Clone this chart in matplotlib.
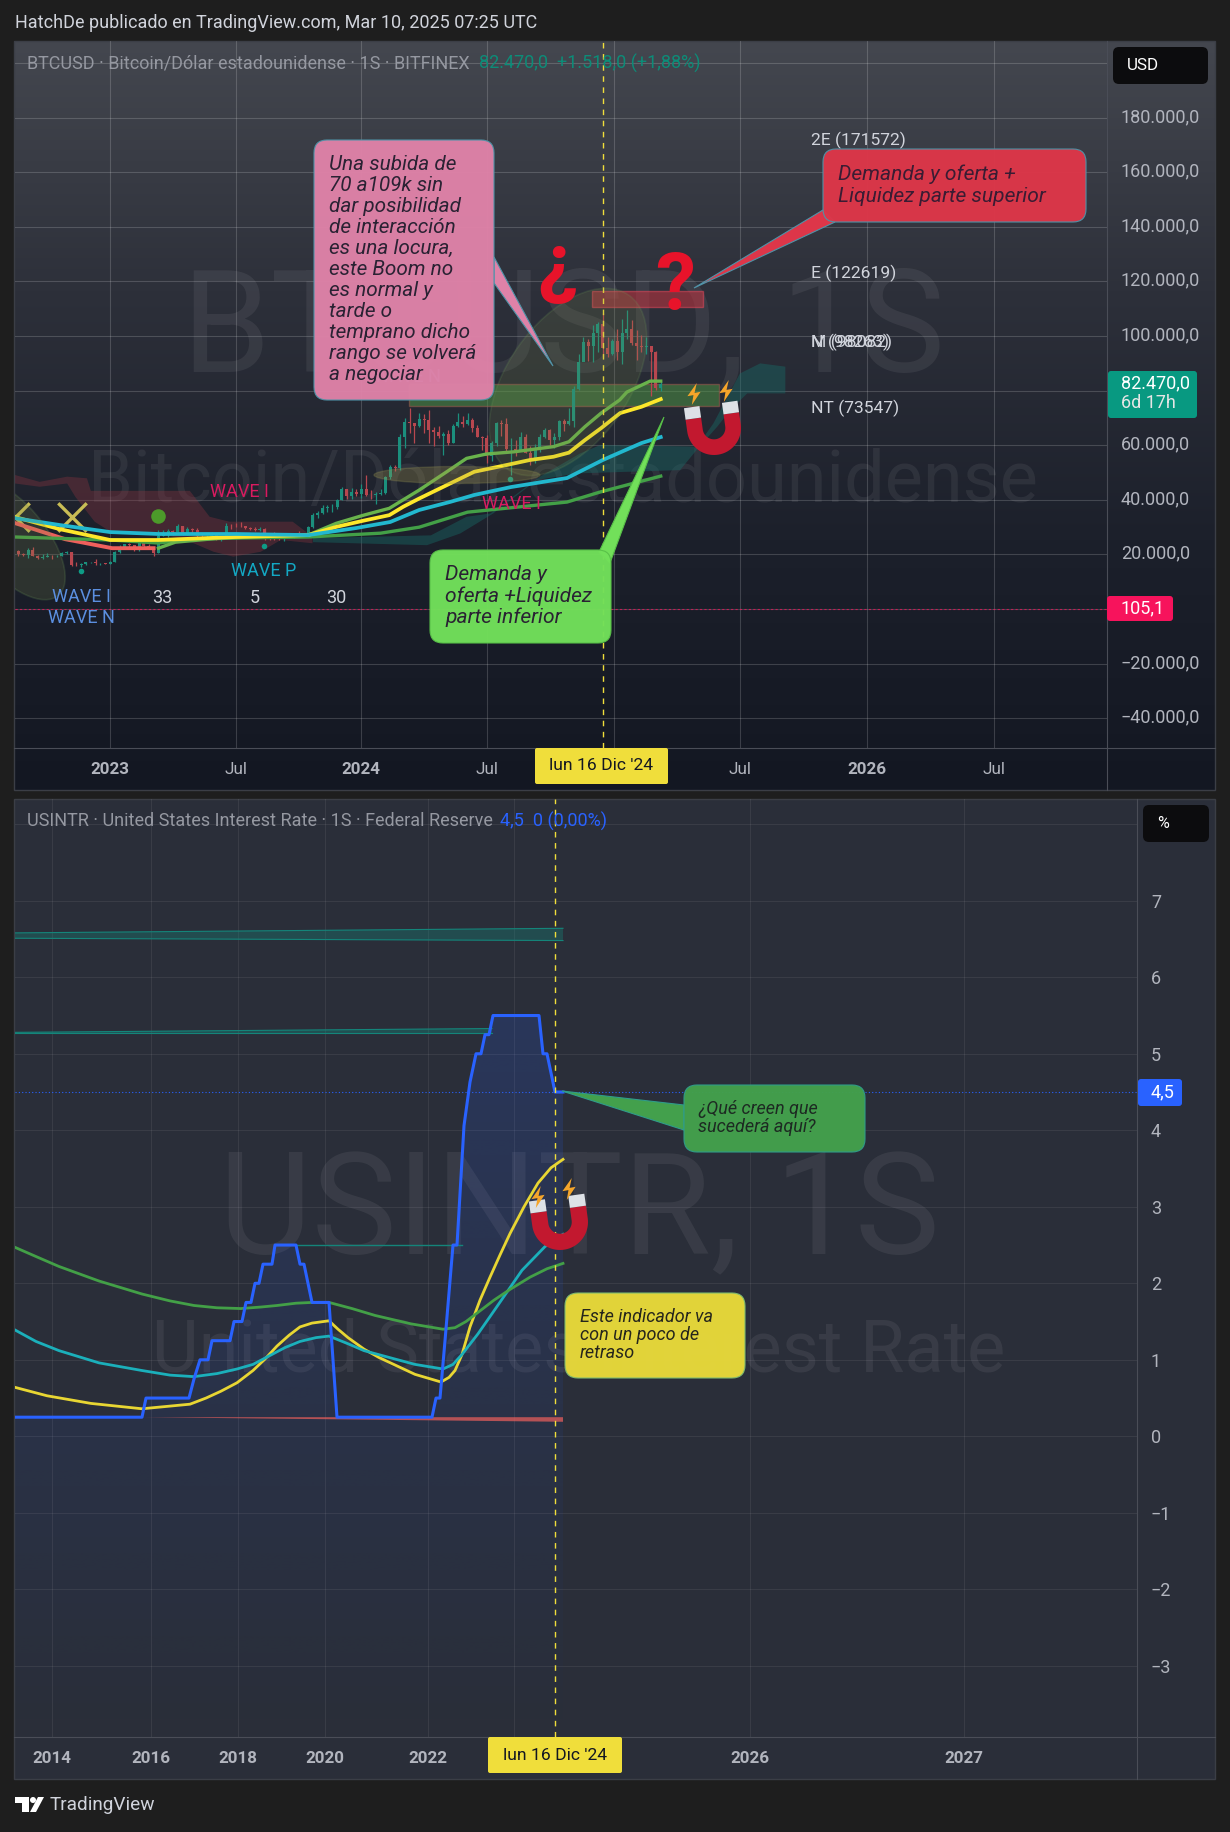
import numpy as np
import matplotlib
matplotlib.use("Agg")
import matplotlib.pyplot as plt
from matplotlib.colors import LinearSegmentedColormap
from matplotlib.patches import Circle, Ellipse, FancyBboxPatch, Polygon, Rectangle
from matplotlib.transforms import ScaledTranslation

plt.rcParams["font.family"] = ["Roboto", "DejaVu Sans"]

W, H = 1230, 1832

# BTCUSD weekly candles, week 0 = first week of 2023
btc_close = [20050, 19950, 21800, 19400, 18800, 19050, 19430, 19260, 19570, 20620,
             20920, 16300, 16280, 16420, 17100, 17100, 16750, 16840, 16610, 17130,
             20880, 22700, 23750, 23300, 21800, 24630, 23170, 22430, 20600, 26900,
             27500, 28470, 28330, 30300, 27800, 29240, 28850, 26780, 26750, 26850,
             27120, 25830, 26340, 30530, 30470, 30340, 30290, 29870, 29300, 29040,
             29300, 26050, 26010, 25870, 25830, 26530, 26560, 27990, 27920, 27100,
             29990, 34500, 35050, 37060, 37380, 37450, 39970, 44000, 41360, 43000,
             42260, 43950, 41760, 41630, 42030, 42600, 48300, 52140, 51730, 63100,
             68400, 68300, 67200, 69650, 69350, 65650, 64950, 63400, 64000, 60800,
             66900, 68500, 67750, 69300, 66200, 63200, 62700, 55900, 60800, 68150,
             67900, 58700, 58700, 58450, 62900, 57300, 54100, 59100, 63200, 65600,
             62100, 62900, 69000, 67900, 68800, 80500, 90400, 97900, 96400, 101200,
             104500, 95500, 93300, 98100, 94300, 101000, 102600, 97500, 96400, 96000,
             96300, 94100, 80950, 82470]
btc_high = [21800, 20600, 22300, 22800, 19700, 20300, 20400, 19900, 19700, 21000,
            21400, 21000, 17100, 16800, 17400, 17400, 18300, 17000, 16950, 17500,
            21300, 23300, 23950, 24200, 23450, 25250, 25100, 23900, 22600, 28900,
            29000, 29400, 28800, 31000, 30500, 30000, 29800, 29800, 27700, 26950,
            28400, 27400, 26800, 31400, 31200, 31500, 31800, 30400, 29900, 30000,
            30200, 29700, 26800, 28100, 26450, 26900, 27500, 28000, 28600, 28000,
            30300, 35100, 35900, 38000, 37950, 38400, 40200, 44700, 44000, 44300,
            43800, 45900, 49000, 43500, 42800, 43900, 48600, 52800, 52900, 64000,
            70000, 73800, 68200, 71700, 71300, 72800, 66800, 67200, 64800, 65500,
            67700, 71900, 70600, 71900, 70000, 67300, 63400, 63800, 61400, 68400,
            69400, 70000, 62700, 61800, 65000, 64000, 59800, 60600, 64100, 66500,
            66000, 64400, 69400, 69500, 73600, 81800, 93500, 99800, 98800, 104000,
            105000, 108300, 99600, 99000, 102700, 106200, 109500, 105900, 102200, 100400,
            99500, 96500, 94400, 83500]
btc_low = [19600, 19500, 18600, 19300, 18200, 18500, 19100, 18200, 18900, 19300,
           20100, 15600, 15800, 15500, 16000, 16750, 16300, 16300, 16350, 16550,
           17100, 20400, 22300, 22800, 21400, 21350, 22800, 21970, 19500, 20500,
           26600, 26500, 27200, 28100, 27150, 27200, 27700, 25800, 26300, 25850,
           26550, 25400, 24800, 26300, 29500, 29900, 29900, 29500, 28900, 28600,
           28700, 25200, 25350, 25350, 25400, 24900, 26000, 26000, 27200, 26550,
           26800, 29800, 33400, 34700, 35500, 35700, 36800, 39900, 40200, 40500,
           41500, 40800, 41400, 40300, 38500, 41900, 42300, 47700, 50500, 50900,
           59000, 64600, 60800, 66600, 64500, 60700, 59700, 62800, 56500, 60200,
           60800, 66600, 66700, 67600, 65000, 63000, 58400, 53500, 54300, 59800,
           63500, 57000, 49000, 56100, 57800, 57100, 52600, 53600, 57500, 62700,
           59900, 58900, 62000, 65200, 67500, 66800, 80200, 90800, 90800, 90500,
           94200, 92200, 92200, 93000, 91300, 89800, 99000, 96800, 91300, 94100,
           93400, 78200, 80200, 80000]
btc_open = [21400] + btc_close[:-1]
btc_week = list(range(-19, 115))

# moving averages on the BTC pane
ma_cyan_w = [-19.7, -10.5, 0, 10, 26, 41, 51, 58, 64, 70.5, 75.4, 83, 94.6, 102, 110, 114]
ma_cyan = [33300, 30800, 28200, 27500, 27500, 27100, 29700, 31900, 36300, 39300, 41800, 44700, 48000, 54600, 60800, 63000]
ma_yellow_w = [-19.7, -10.5, 0, 10, 26, 41, 46.8, 52.5, 57.8, 60.7, 64, 69.7, 75.4, 81.1, 86.9, 91.8, 95, 98.3, 101.6, 105.6, 110, 114]
ma_yellow = [33700, 29300, 25300, 25300, 26400, 27100, 30100, 32400, 34400, 37500, 40500, 45400, 50300, 52400, 54600, 55800, 57300, 61900, 66200, 71800, 74100, 76900]
ma_lime_w = [10, 13.5, 23, 41, 46.8, 52.5, 57.8, 64, 69.7, 73.8, 77.9, 83.6, 91.8, 95, 98.3, 101.6, 105.5, 107, 111.8, 114]
ma_lime = [22300, 24500, 26000, 27100, 31400, 34400, 36900, 43600, 50300, 55200, 56800, 57600, 59500, 61300, 66800, 71700, 76600, 79500, 83500, 83500]
ma_green_w = [-19.7, 0, 10, 17, 26, 41, 56, 64, 74, 94.6, 101.5, 114]
ma_green = [26400, 25300, 24200, 25600, 26000, 26400, 27800, 30000, 35500, 39200, 42900, 48700]
ma_red_w = [-19.7, -9.3, 0.4, 9]
ma_red = [31500, 25600, 22300, 22300]

# clouds on the BTC pane
red_top_w = [-19.7, -14.6, -8.9, -4.8, -4, 16.5, 20.6, 24.7, 37.8, 41.9]
red_top = [49100, 46600, 48500, 47900, 43300, 43300, 33800, 32000, 32000, 26500]
red_bot_w = [-19.7, -14.6, -8.9, -7.2, -3.2, 0.1, 9.9, 15.7, 21.4, 25.5, 31.2, 35.3, 41.9]
red_bot = [46000, 44800, 46000, 41100, 32000, 28300, 27700, 25300, 21000, 19200, 21000, 25300, 24100]
teal_top_w = [42, 66.4, 73.8, 78.7, 89, 97.3, 101.5, 121.5, 124.9, 130.4, 134.6, 139.8]
teal_top = [26000, 27000, 33800, 35000, 48500, 57000, 60100, 59500, 68000, 86300, 90000, 88800]
teal_bot_w = [42, 65.6, 72.5, 79.3, 88.4, 96.7, 118, 122, 125.7, 128.4, 131.9, 139.8]
teal_bot = [24500, 23400, 27700, 35000, 47300, 49700, 50900, 59500, 66800, 72900, 79000, 79000]

btc_ticks = [200000, 180000, 160000, 140000, 120000, 100000, 80000, 60000, 40000, 20000, 0, -20000, -40000]
btc_tick_labels = ["200.000,0", "180.000,0", "160.000,0", "140.000,0", "120.000,0", "100.000,0", "80.000,0",
                   "60.000,0", "40.000,0", "20.000,0", "", "\u221220.000,0", "\u221240.000,0"]
btc_time_ticks = [0, 26, 52, 78, 104.3, 130.4, 156.7, 183]
btc_time_labels = ["2023", "Jul", "2024", "Jul", "2025", "Jul", "2026", "Jul"]

# USINTR pane, x is the bar number on the compressed time scale
rate_bar = [0, 127, 131, 174, 179, 185, 193, 197, 215, 219, 227, 231, 236, 240, 244, 248, 257, 260, 281, 285,
            289, 297, 314, 322, 417, 421, 425, 430, 438, 442, 449, 455, 461, 466, 470, 474, 478, 524, 528, 532, 540, 548]
rate_val = [0.25, 0.25, 0.5, 0.5, 0.75, 1.0, 1.0, 1.25, 1.25, 1.5, 1.5, 1.75, 1.75, 2.0, 2.0, 2.25, 2.25, 2.5, 2.5, 2.25,
            2.25, 1.75, 1.75, 0.25, 0.25, 0.5, 0.5, 1.25, 2.5, 2.5, 4.06, 4.63, 5.0, 5.0, 5.25, 5.25, 5.5, 5.5, 5.0, 5.0, 4.5, 4.5]
rate_yellow_b = [0, 32, 76, 127, 175, 191, 206, 222, 238, 250, 262, 274, 285, 297, 314, 323, 333, 349, 364, 400, 426, 434, 440, 447,
                 455, 465, 475, 485, 495, 509, 523, 536, 548]
rate_yellow = [0.64, 0.53, 0.43, 0.36, 0.42, 0.50, 0.59, 0.70, 0.86, 1.01, 1.18, 1.32, 1.43, 1.48, 1.51, 1.40, 1.29, 1.14, 1.03, 0.81, 0.71, 0.77, 0.86, 1.07,
               1.43, 1.78, 2.08, 2.37, 2.65, 3.0, 3.31, 3.51, 3.62]
rate_cyan_b = [0, 21, 44, 84, 127, 155, 179, 202, 222, 238, 254, 270, 285, 301, 314, 333, 349, 380, 400, 428, 438, 447, 463, 479, 507, 530, 548]
rate_cyan = [1.39, 1.24, 1.12, 0.96, 0.86, 0.80, 0.78, 0.82, 0.88, 0.94, 1.05, 1.16, 1.24, 1.29, 1.31, 1.21, 1.12, 1.01, 0.94, 0.88, 0.94, 1.07, 1.34, 1.64, 2.17, 2.48, 2.64]
rate_green_b = [0, 21, 44, 84, 127, 155, 179, 202, 226, 246, 262, 281, 297, 314, 337, 360, 396, 428, 440, 451, 479, 495, 515, 532, 548]
rate_green = [2.47, 2.35, 2.22, 2.03, 1.86, 1.77, 1.71, 1.68, 1.67, 1.69, 1.71, 1.74, 1.75, 1.75, 1.67, 1.58, 1.47, 1.40, 1.42, 1.50, 1.78, 1.92, 2.08, 2.19, 2.26]
rate_ticks = [8, 7, 6, 5, 4, 3, 2, 1, 0, -1, -2, -3]
rate_tick_labels = ["8", "7", "6", "5", "4", "3", "2", "1", "0", "\u22121", "\u22122", "\u22123"]
rate_time_ticks = [37, 136, 223, 310, 413, 499, 735, 949]
rate_time_labels = ["2014", "2016", "2018", "2020", "2022", "", "2026", "2027"]

GREEN, RED = "#1b8f7d", "#b8474f"
GRID_TXT = "#b2b5be"
LIGHT = "#d1d4dc"


def px(size):
    return size * 0.72


def axes_from_px(x0, y0, x1, y1, z):
    return fig.add_axes([x0 / W, 1 - y1 / H, (x1 - x0) / W, (y1 - y0) / H], zorder=z)


def style_pane(ax, grid_alpha):
    ax.set_facecolor("none")
    for s in ax.spines.values():
        s.set_visible(False)
    ax.yaxis.tick_right()
    ax.tick_params(axis="both", length=0, colors=GRID_TXT, labelsize=px(18))
    ax.tick_params(axis="y", pad=10)
    ax.tick_params(axis="x", pad=10)
    ax.grid(True, color="white", alpha=grid_alpha, lw=0.8)
    ax.set_axisbelow(True)


def callout(ax, x0, y0, x1, y1, tail, color, edge="#4f93a8"):
    if tail:
        ax.add_patch(Polygon(tail, closed=True, fc=color, ec=edge, lw=0.8, zorder=6))
    ax.add_patch(FancyBboxPatch((x0, y0), x1 - x0, y1 - y0, boxstyle="round,pad=0,rounding_size=13",
                                fc=color, ec=edge, lw=0.8, zorder=7, alpha=0.97))


def note(ax, x, ys, lines, size, color="#2a2233"):
    for y, s in zip(ys, lines):
        ax.text(x, y, s, fontsize=px(size), style="italic", color=color, va="center", ha="left", zorder=8)


def magnet(ax, cx, cy, r, deg):
    t = np.linspace(0, np.pi, 40)
    xs = np.r_[np.cos(t), -1, -0.42, 0.42 * np.cos(t[::-1]), 0.42, 1]
    ys = np.r_[np.sin(t), -0.45, -0.45, 0.42 * np.sin(t[::-1]), -0.45, -0.45]
    a = np.radians(deg)

    def place(x, y):
        x, y = np.asarray(x), np.asarray(y)
        return np.c_[cx + r * (x * np.cos(a) - y * np.sin(a)), cy + r * (x * np.sin(a) + y * np.cos(a))]

    ax.add_patch(Polygon(place(xs, ys), fc="#c2182f", ec="none", zorder=7))
    for left in (-1.0, 0.42):
        ax.add_patch(Polygon(place([left, left + 0.58, left + 0.58, left], [-0.45, -0.45, -0.88, -0.88]),
                             fc="#dde1e6", ec="none", zorder=7))


def bolt(ax, cx, cy, s):
    shape = np.array([[0.25, -1], [-0.6, 0.2], [-0.05, 0.1], [-0.2, 1], [0.6, -0.2], [0.05, -0.1]])
    ax.add_patch(Polygon(shape * s + [cx, cy], fc="#f5a52a", ec="none", zorder=7))


fig = plt.figure(figsize=(W / 100, H / 100), dpi=100, facecolor="#1e1e1e")

# page background, panes, watermarks
bg = axes_from_px(0, 0, W, H, 0)
grad = LinearSegmentedColormap.from_list("pane", ["#44474f", "#2d303a", "#1c202b", "#131722"])
bg.imshow(np.linspace(0, 1, 256)[:, None], cmap=grad, extent=(14, 1215, 790, 41), aspect="auto")
bg.add_patch(Rectangle((14, 799), 1201, 980, fc="#2a2e39", ec="none"))
bg.set_xlim(0, W)
bg.set_ylim(H, 0)
bg.axis("off")
for xs, ys in [((1107, 1107), (41, 790)), ((14, 1215), (748, 748)), ((1137, 1137), (799, 1779)), ((14, 1215), (1737, 1737))]:
    bg.plot(xs, ys, color="#4a4d57", lw=0.8)
bg.add_patch(Rectangle((14, 41), 1201, 749, fc="none", ec="#3b3e46", lw=1))
bg.add_patch(Rectangle((14, 799), 1201, 980, fc="none", ec="#3b3e46", lw=1))

wm = dict(color="white", alpha=0.065, ha="center", va="center")
bg.text(563, 332, "BTCUSD, 1S", fontsize=px(142), **wm)
bg.text(563, 483, "Bitcoin/D\u00f3lar estadounidense", fontsize=px(72), **wm)
bg.text(579, 1215, "USINTR, 1S", fontsize=px(143), **wm)
bg.text(579, 1352, "United States Interest Rate", fontsize=px(72), **wm)

# BTC pane
ax1 = axes_from_px(15, 41, 1107, 748, 2)
style_pane(ax1, 0.17)
ax1.set_xlim(-19.7, 206.4)
ax1.set_ylim(-50900, 208100)

ax1.fill(np.r_[red_top_w, red_bot_w[::-1]], np.r_[red_top, red_bot[::-1]], color="#8c3440", alpha=0.36, lw=0)
ax1.fill(np.r_[teal_top_w, teal_bot_w[::-1]], np.r_[teal_top, teal_bot[::-1]], color="#17706a", alpha=0.4, lw=0)

ax1.add_patch(Rectangle((61.9, 74400), 64.1, 8000, fc="#4f9a45", ec="#a85a50", alpha=0.5, lw=1))
ax1.add_patch(Rectangle((99.8, 110600), 23, 5900, fc="#c23440", ec="#e0485a", alpha=0.55, lw=1))

colors = [GREEN if c >= o else RED for o, c in zip(btc_open, btc_close)]
ax1.vlines(btc_week, btc_low, btc_high, colors=colors, lw=0.9)
ax1.bar(btc_week, np.array(btc_close) - np.array(btc_open), bottom=btc_open, width=0.62, color=colors, lw=0)

ax1.plot(ma_red_w, ma_red, color="#f0605c", lw=2.8)
ax1.plot(ma_green_w, ma_green, color="#43a047", lw=2.4)
ax1.plot(ma_lime_w, ma_lime, color="#69b34c", lw=2.4)
ax1.plot(ma_yellow_w, ma_yellow, color="#fde72b", lw=2.7)
ax1.plot(ma_cyan_w, ma_cyan, color="#22b8cf", lw=2.7)

ax1.axhline(105.1, color="#f7135c", lw=0.8, ls=(0, (2, 2)), alpha=0.7)
ax1.axvline(102, color="#f0de3b", lw=1, ls=(0, (4, 4)))

ax1.scatter([-19.7, -7.9], [33700, 33700], marker="x", s=420, color="#c9bd55", lw=2.4)
ax1.scatter([9.9], [34000], s=110, color="#4c9a2a", lw=0)
ax1.scatter([-6, 31.9, 82.8], [13900, 23100, 47600], s=16, color="#0e9c86", lw=0)

ax1.set_yticks(btc_ticks, btc_tick_labels)
lift = ScaledTranslation(0, 2 / 72, fig.dpi_scale_trans)
for lab in ax1.get_yticklabels():
    lab.set_verticalalignment("center_baseline")
    lab.set_transform(lab.get_transform() + lift)
ax1.set_xticks(btc_time_ticks, btc_time_labels)
for lab in ax1.get_xticklabels():
    lab.set_fontweight("bold" if lab.get_text().isdigit() else "normal")
    lab.set_fontsize(px(17))

# rate pane
ax2 = axes_from_px(15, 799, 1137, 1737, 3)
style_pane(ax2, 0.07)
ax2.set_xlim(0, 1122)
ax2.set_ylim(-3.93, 8.33)

# area under the rate fades out toward the bottom of the pane
shade = np.zeros((256, 1, 4))
shade[..., :3] = matplotlib.colors.to_rgb("#2962ff")
shade[:, 0, 3] = np.linspace(0.17, 0.0, 256)
im = ax2.imshow(shade, extent=(0, 548, -3.93, 5.5), aspect="auto", zorder=1)
im.set_clip_path(Polygon(np.c_[np.r_[rate_bar, 548, 0], np.r_[rate_val, -3.93, -3.93]], transform=ax2.transData))
ax2.set_xlim(0, 1122)
ax2.set_ylim(-3.93, 8.33)

ax2.fill_between([0, 548], [6.51, 6.48], [6.58, 6.64], fc="#14857a", alpha=0.35, lw=0)
ax2.plot([0, 548], [6.51, 6.48], color="#14857a", lw=0.8)
ax2.plot([0, 548], [6.58, 6.64], color="#14857a", lw=0.8)
ax2.fill_between([0, 477], [5.27, 5.27], [5.28, 5.33], fc="#14857a", alpha=0.4, lw=0)
ax2.plot([0, 477], [5.27, 5.27], color="#14857a", lw=0.8)
ax2.plot([0, 477], [5.28, 5.33], color="#14857a", lw=0.8)
ax2.plot([281, 447], [2.5, 2.5], color="#14857a", lw=1)
ax2.fill_between([127, 548], [0.25, 0.19], [0.25, 0.25], fc="#f0605c", alpha=0.7, lw=0)

ax2.plot(rate_yellow_b, rate_yellow, color="#e8d633", lw=2.0)
ax2.plot(rate_cyan_b, rate_cyan, color="#1bb0bb", lw=2.0)
ax2.plot(rate_green_b, rate_green, color="#43a047", lw=2.0)
ax2.plot(rate_bar, rate_val, color="#2962ff", lw=2.2)

ax2.axhline(4.5, color="#2962ff", lw=0.8, ls=(0, (1, 2)))
ax2.axvline(540, color="#f0de3b", lw=1, ls=(0, (4, 4)))

ax2.set_yticks(rate_ticks, rate_tick_labels)
ax2.set_xticks(rate_time_ticks, rate_time_labels)
for lab in ax2.get_xticklabels():
    lab.set_fontweight("bold")
    lab.set_fontsize(px(17))

# drawings and labels on top, in page pixels
ov = axes_from_px(0, 0, W, H, 5)
ov.set_xlim(0, W)
ov.set_ylim(H, 0)
ov.axis("off")
ov.patch.set_alpha(0)

pane_clip = Rectangle((15, 41), 1092, 707, transform=ov.transData)
e1 = Ellipse((568, 382), 212, 122, angle=-55, fc="#7c8a4a", ec="#6d9a5a", alpha=0.18, lw=1.2, zorder=3)
e2 = Ellipse((10, 538), 150, 70, angle=50, fc="#7c8a4a", ec="#6d9a5a", alpha=0.2, lw=1.2, zorder=3)
e3 = Ellipse((457, 475), 166, 17, fc="#a89a50", ec="#8a8a50", alpha=0.28, lw=1, zorder=3)
for e in (e1, e2, e3):
    ov.add_patch(e)
e2.set_clip_path(pane_clip)

ov.text(407, 377, "WAVE N", color="#5b8fe0", fontsize=px(18), ha="center", va="center", zorder=5)

wave = [(239, 492, "WAVE I", "#d81b60"), (511, 504, "WAVE I", "#d81b60"), (264, 571, "WAVE P", "#13a8c4"),
        (81, 597, "WAVE I", "#5b8fe0"), (81, 618, "WAVE N", "#5b8fe0"), (162, 598, "33", LIGHT),
        (255, 598, "5", LIGHT), (336, 598, "30", LIGHT)]
for x, y, s, c in wave:
    ov.text(x, y, s, color=c, fontsize=px(18), ha="center", va="center", zorder=5)

for y, s in [(140, "2E (171572)"), (273, "E (122619)"), (342, "M (98082)"), (342, "N (98263)"), (408, "NT (73547)")]:
    ov.text(811, y, s, color=LIGHT, fontsize=px(17.5), va="center", zorder=5)

callout(ov, 314, 140, 494, 400, [(494, 257), (553, 366), (494, 283)], "#df82a8")
note(ov, 329, np.arange(165, 376, 20.95),
     ["Una subida de", "70 a109k sin", "dar posibilidad", "de interacci\u00f3n", "es una locura,", "este Boom no",
      "es normal y", "tarde o", "temprano dicho", "rango se volver\u00e1", "a negociar"], 20.8)

callout(ov, 823, 149, 1086, 222, [(823, 210), (694, 288), (835, 222)], "#dd3649")
note(ov, 838, [174, 196], ["Demanda y oferta +", "Liquidez parte superior"], 21, "#3a1c33")

callout(ov, 430, 550, 611, 643, [(599, 552), (664, 417), (610, 563)], "#72e05a", edge="#58c048")
note(ov, 445, [575, 596, 617], ["Demanda y", "oferta +Liquidez", "parte inferior"], 21)

callout(ov, 684, 1085, 865, 1152, [(684, 1105), (562, 1091), (684, 1130)], "#43a04c", edge="#2f9c8a")
note(ov, 698, [1109, 1127], ["\u00bfQu\u00e9 creen que", "suceder\u00e1 aqu\u00ed?"], 18, "#1d2a22")

callout(ov, 565, 1293, 745, 1378, None, "#e8d93a", edge="#7dbb70")
note(ov, 580, [1317, 1335, 1353], ["Este indicador va", "con un poco de", "retraso"], 18, "#26261c")

ov.text(557, 268, "\u00bf", color="#e8132a", fontsize=px(80), fontweight="bold", ha="center", va="center", zorder=7)
ov.text(675, 289, "?", color="#e8132a", fontsize=px(80), fontweight="bold", ha="center", va="center", zorder=7)

magnet(ov, 714, 428, 27, -8)
bolt(ov, 694, 394, 11)
bolt(ov, 726, 391, 11)
magnet(ov, 560, 1222, 28, -8)
bolt(ov, 538, 1197, 11)
bolt(ov, 569, 1189, 11)

# header, legends
ov.text(15, 23, "HatchDe publicado en TradingView.com, Mar 10, 2025 07:25 UTC", color=LIGHT, fontsize=px(18), va="center")
ov.text(27, 63, "BTCUSD \u00b7 Bitcoin/D\u00f3lar estadounidense \u00b7 1S \u00b7 BITFINEX", color="#9598a1", fontsize=px(18), va="center")
ov.text(479, 63, "82.470,0  +1.518,0 (+1,88%)", color="#0d8c78", fontsize=px(18), va="center")
ov.text(27, 821, "USINTR \u00b7 United States Interest Rate \u00b7 1S \u00b7 Federal Reserve", color="#9598a1", fontsize=px(18), va="center")
ov.text(500, 821, "4,5  0 (0,00%)", color="#2962ff", fontsize=px(18), va="center")


# axis tags
def tag(x0, y0, x1, y1, color, size=4):
    ov.add_patch(FancyBboxPatch((x0, y0), x1 - x0, y1 - y0, boxstyle="round,pad=0,rounding_size=%d" % size,
                                fc=color, ec="none", zorder=7))


tag(1113, 47, 1208, 84, "#0c0c0e", 6)
ov.text(1127, 65, "USD", color="white", fontsize=px(17), va="center", zorder=8)
tag(1143, 805, 1209, 842, "#0c0c0e", 6)
ov.text(1157, 823, "%", color="white", fontsize=px(16), va="center", zorder=8)

tag(1108, 371, 1197, 418, "#089981", 3)
ov.text(1121, 383, "82.470,0", color="white", fontsize=px(18), va="center", zorder=8)
ov.text(1121, 403, "6d 17h", color="#e6e6e6", fontsize=px(18), va="center", zorder=8)
tag(1107, 596, 1173, 621, "#f7135c", 3)
ov.text(1121, 608, "105,1", color="white", fontsize=px(18), va="center", zorder=8)
tag(1138, 1079, 1182, 1106, "#2962ff", 3)
ov.text(1151, 1092, "4,5", color="white", fontsize=px(18), va="center", zorder=8)

tag(535, 748, 668, 784, "#f0de3b", 2)
ov.text(601, 766, "lun 16 Dic '24", color="#131722", fontsize=px(17.5), ha="center", va="center", zorder=8)
tag(488, 1737, 622, 1773, "#f0de3b", 2)
ov.text(555, 1755, "lun 16 Dic '24", color="#131722", fontsize=px(17.5), ha="center", va="center", zorder=8)

# footer logo
ov.add_patch(Polygon([(15, 1797), (29, 1797), (29, 1812), (22, 1812), (22, 1803), (15, 1803)], fc="white", ec="none"))
ov.add_patch(Circle((33, 1800), 3, fc="white", ec="none"))
ov.add_patch(Polygon([(38, 1797), (44, 1797), (36, 1812), (30, 1812)], fc="white", ec="none"))
ov.text(50, 1805, "TradingView", color=LIGHT, fontsize=px(19), va="center")

fig.savefig("out.png", dpi=100, facecolor=fig.get_facecolor())
